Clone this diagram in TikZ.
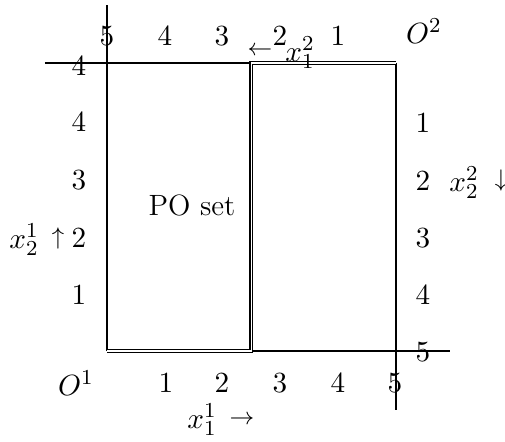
\documentclass[tikz,border=0pt]{standalone}
\begin{document}
\begin{tikzpicture}[x=0.375pt,y=-0.375pt,
  boxline/.style={line width=0.55pt},
  poline/.style={double,line width=0.45pt,double distance=0.6pt},
  lbl/.style={inner sep=0pt,anchor=center,font=\fontsize{11}{13}\selectfont},
  arr/.style={inner sep=0pt,anchor=center,font=\fontsize{9}{11}\selectfont}]
\useasboundingbox (0,0) rectangle (505,441);
% box corners and line ends
\coordinate (O1) at (107,351);
\coordinate (BR) at (396,351);
\coordinate (TL) at (107,63);
\coordinate (O2) at (396,63);
\coordinate (Ltop) at (107,5);
\coordinate (Tleft) at (45,63);
\coordinate (Rbot) at (396,410);
\coordinate (Bright) at (450,351);
\coordinate (PB) at (251.5,351);
\coordinate (PT) at (251.5,63);
\draw[boxline] (Ltop) -- (O1);
\draw[boxline] (Tleft) -- (O2);
\draw[boxline] (O2) -- (Rbot);
\draw[boxline] (O1) -- (Bright);
\draw[poline] (O1) -- (PB) -- (PT) -- (O2);
% top labels
\node[lbl] (t5) at (107,36) {$5$};
\node[lbl] (t4) at (165,36) {$4$};
\node[lbl] (t3) at (222,36) {$3$};
\node[lbl] (t2) at (280,36) {$2$};
\node[lbl] (t1) at (338,36) {$1$};
\node[lbl] (o2l) at (424,31) {$O^2$};
\node[arr] (larrow) at (260,51) {$\leftarrow$};
\node[lbl] (x12) at (300,53) {$x_1^2$};
% left labels
\node[lbl] (l5) at (79,66) {$4$};
\node[lbl] (l4) at (79,122) {$4$};
\node[lbl] (l3) at (79,180) {$3$};
\node[lbl] (l2) at (79,238) {$2$};
\node[lbl] (l1) at (79,295) {$1$};
\node[arr] (uarrow) at (58,238) {$\uparrow$};
\node[lbl] (x21) at (24,240) {$x_2^1$};
% right labels
\node[lbl] (r1) at (423,123) {$1$};
\node[lbl] (r2) at (423,181) {$2$};
\node[lbl] (r3) at (423,238) {$3$};
\node[lbl] (r4) at (423,295) {$4$};
\node[lbl] (r5) at (423,352) {$5$};
\node[lbl] (x22) at (464,183) {$x_2^2$};
\node[arr] (darrow) at (501,180) {$\downarrow$};
% bottom labels
\node[lbl] (o1l) at (76,383) {$O^1$};
\node[lbl] (b1) at (166,383) {$1$};
\node[lbl] (b2) at (222,383) {$2$};
\node[lbl] (b3) at (280,383) {$3$};
\node[lbl] (b4) at (338,383) {$4$};
\node[lbl] (b5) at (395,383) {$5$};
\node[lbl] (x11) at (202,420) {$x_1^1$};
\node[arr] (rarrow) at (242,420) {$\rightarrow$};
% PO set
\node[lbl] (po) at (192,205) {PO set};
\end{tikzpicture}
\end{document}
